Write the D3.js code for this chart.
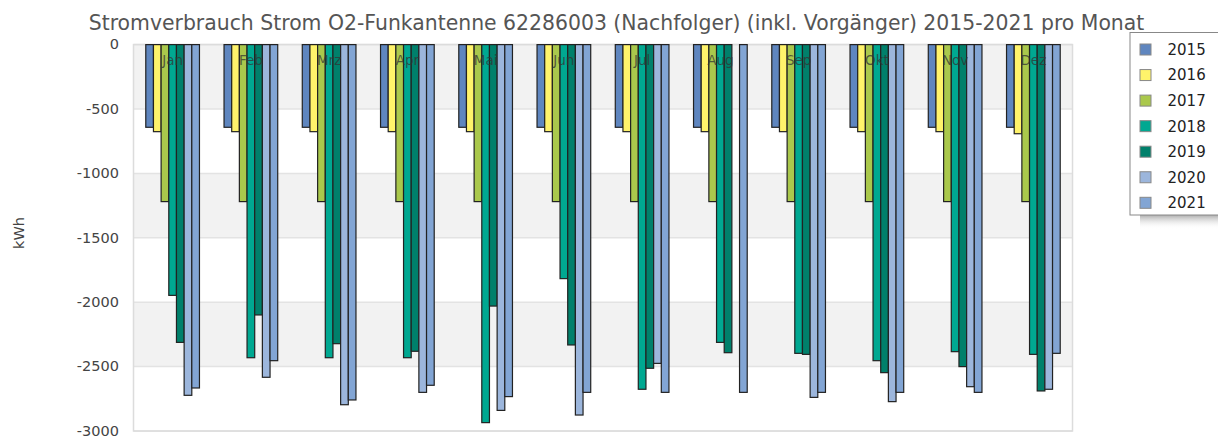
<!DOCTYPE html>
<html><head><meta charset="utf-8">
<script src="https://cdn.jsdelivr.net/npm/d3@7"></script>
<style>body{margin:0;background:#fff;} svg{display:block;font-family:"DejaVu Sans",sans-serif;}</style>
</head><body><svg id="c" width="1218" height="438"></svg>
<script>
const months = ["Jan","Feb","Mrz","Apr","Mai","Jun","Jul","Aug","Sep","Okt","Nov","Dez"];
const years = ["2015","2016","2017","2018","2019","2020","2021"];
const colors = ["#5f86bf","#fff36b","#aac84c","#00a891","#00806b","#9cb6dc","#82a5d4"];
const v2015 = [-642,-642,-642,-642,-642,-642,-642,-642,-642,-642,-642,-642];
const v2016 = [-676,-676,-676,-676,-676,-676,-676,-676,-676,-676,-676,-692];
const v2017 = [-1219,-1219,-1219,-1219,-1219,-1219,-1219,-1219,-1219,-1219,-1219,-1219];
const v2018 = [-1947,-2431,-2431,-2431,-2935,-1817,-2676,-2312,-2397,-2454,-2384,-2405];
const v2019 = [-2312,-2099,-2322,-2381,-2030,-2332,-2513,-2392,-2405,-2547,-2500,-2689];
const v2020 = [-2723,-2583,-2796,-2700,-2840,-2876,-2475,null,-2739,-2772,-2656,-2676];
const v2021 = [-2666,-2454,-2759,-2645,-2733,-2700,-2700,-2700,-2700,-2700,-2700,-2397];
const yTicks = [0,-500,-1000,-1500,-2000,-2500,-3000];
const title = "Stromverbrauch Strom O2-Funkantenne 62286003 (Nachfolger) (inkl. Vorgänger) 2015-2021 pro Monat";
const yLabel = "kWh";

const series = [v2015,v2016,v2017,v2018,v2019,v2020,v2021];
const svg = d3.select("#c");
const L = 133.5, R = 1072.5, T = 44.6, B = 431;

const x = d3.scaleBand().domain(months).range([L,R]).paddingInner(0.314).paddingOuter(0.157);
const xs = d3.scaleBand().domain(years).range([0,x.bandwidth()]);
const y = d3.scaleLinear().domain([0,-3000]).range([T,B]);

// alternating bands
const bands = d3.pairs(yTicks);
svg.append("g").selectAll("rect").data(bands).join("rect")
  .attr("x",L).attr("width",R-L)
  .attr("y",d=>y(d[0])).attr("height",d=>y(d[1])-y(d[0]))
  .attr("fill",(d,i)=>i%2===0?"#f2f2f2":"#ffffff");
// gridlines
svg.append("g").selectAll("line").data(yTicks).join("line")
  .attr("x1",L).attr("x2",R).attr("y1",d=>y(d)).attr("y2",d=>y(d))
  .attr("stroke","#e3e3e3").attr("stroke-width",1.5);
svg.append("rect").attr("x",L).attr("y",T).attr("width",R-L).attr("height",B-T)
  .attr("fill","none").attr("stroke","#dcdcdc").attr("stroke-width",1.5);

// bars
const g = svg.append("g");
months.forEach((m,mi)=>{
  years.forEach((yr,si)=>{
    const val = series[si][mi];
    if(val==null) return;
    g.append("rect")
      .attr("x",x(m)+xs(yr)).attr("width",xs.bandwidth())
      .attr("y",y(0)).attr("height",y(val)-y(0))
      .attr("fill",colors[si]).attr("stroke","#222").attr("stroke-width",1.2);
  });
});

// month labels
svg.append("g").selectAll("text").data(months).join("text")
  .attr("x",d=>x(d)+x.bandwidth()/2).attr("y",65)
  .attr("text-anchor","middle").attr("font-size",13.5)
  .attr("fill","#333").attr("fill-opacity",0.75).text(d=>d);

// y axis
const ya = d3.axisLeft(y).tickValues(yTicks).tickSize(0).tickPadding(14.5).tickFormat(d=>String(d));
const ag = svg.append("g").attr("transform",`translate(${L},0)`).call(ya);
ag.select(".domain").remove();
ag.selectAll("text").attr("font-size",14.5).attr("fill","#444").attr("font-family","DejaVu Sans").attr("dy","0.3em");

svg.append("text").attr("transform","translate(19,233) rotate(-90)").attr("dy","0.35em")
  .attr("text-anchor","middle").attr("font-size",14.5).attr("fill","#444").text(yLabel);

svg.append("text").attr("x",616.5).attr("y",30).attr("text-anchor","middle")
  .attr("font-size",20.4).attr("fill","#555").text(title);

// legend
const defs = svg.append("defs");
const lg = defs.append("linearGradient").attr("id","sh").attr("x1",0).attr("y1",0).attr("x2",0).attr("y2",1);
lg.append("stop").attr("offset",0).attr("stop-color","#999").attr("stop-opacity",0.8);
lg.append("stop").attr("offset",1).attr("stop-color","#fff").attr("stop-opacity",0);
svg.append("rect").attr("x",1140).attr("y",215).attr("width",80).attr("height",14).attr("fill","url(#sh)");
svg.append("rect").attr("x",1130).attr("y",32.5).attr("width",100).attr("height",182.5)
  .attr("fill","#fff").attr("stroke","#888").attr("stroke-width",1);
const li = svg.append("g").selectAll("g").data(years).join("g")
  .attr("transform",(d,i)=>`translate(0,${49.5+i*25.55})`);
li.append("rect").attr("x",1140).attr("y",-5.5).attr("width",11).attr("height",11)
  .attr("fill",(d,i)=>colors[i]).attr("stroke","#888").attr("stroke-width",1);
li.append("text").attr("x",1167.5).attr("y",0).attr("dy","0.36em").attr("font-size",15)
  .attr("fill","#222").text(d=>d);
</script></body></html>
